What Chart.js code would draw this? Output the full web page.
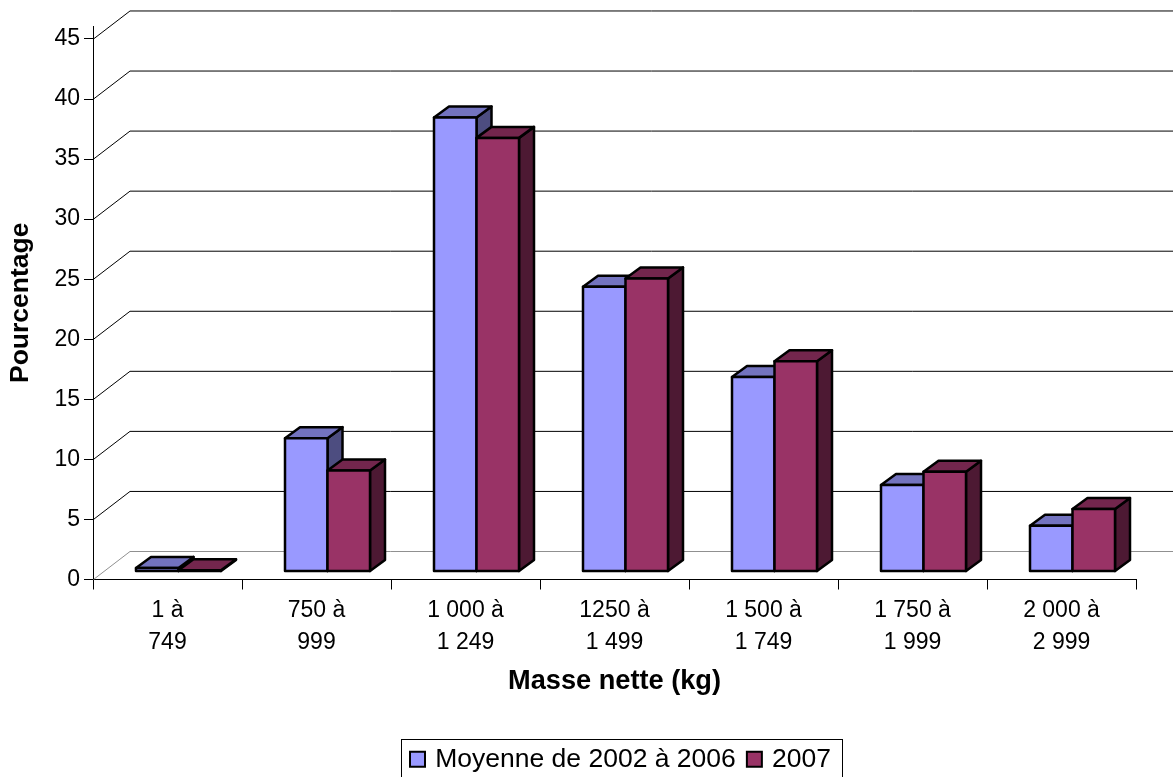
<!DOCTYPE html>
<html>
<head>
<meta charset="utf-8">
<style>html,body{margin:0;padding:0;background:#fff;overflow:hidden}canvas{display:block}</style>
<script src="https://cdn.jsdelivr.net/npm/chart.js@4"></script>
</head>
<body>
<canvas id="c" width="1175" height="777"></canvas>
<script>
const categories = [["1 à","749"],["750 à","999"],["1 000 à","1 249"],["1250 à","1 499"],["1 500 à","1 749"],["1 750 à","1 999"],["2 000 à","2 999"]];
const seriesNames = ["Moyenne de 2002 à 2006","2007"];
const moyenne = [0.3,11.1,37.8,23.7,16.2,7.2,3.8];
const annee2007 = [0.1,8.4,36.1,24.4,17.5,8.3,5.2];
const xTitle = "Masse nette (kg)";
const yTitle = "Pourcentage";

const FONT = "'Liberation Sans', Arial, sans-serif";
const faces = [
  {front:"#9999FF",top:"#7373BF",side:"#4D4D80"},
  {front:"#993366",top:"#73264D",side:"#4D1933"}
];
const WALL = {dx:37,dy:-28};      // depth of the whole 3D floor
const PLANE = {dx:11,dy:-8};      // front plane of the bars
const DEPTH = {dx:15,dy:-11};     // depth of one bar

function swatch(color){
  const s=document.createElement('canvas');s.width=19;s.height=19;
  const g=s.getContext('2d');
  g.fillStyle=color;g.fillRect(1,1,17,17);
  g.strokeStyle='#000';g.lineWidth=2;g.strokeRect(2,2,15,15);
  return s;
}

const threeD = {
  id:'threeD',
  afterLayout(chart){
    const l=chart.legend;
    l.left+=54;l.right+=54;
    l.top=732;l.bottom=777;l.height=45;
  },
  beforeDatasetsDraw(chart){
    const {ctx,chartArea:a,scales:{y}}=chart;
    ctx.save();
    ctx.lineWidth=1;
    y.ticks.forEach(t=>{
      const py=y.getPixelForValue(t.value);
      ctx.strokeStyle=t.value===0?'#909090':'#000';
      ctx.beginPath();
      ctx.moveTo(a.left+0.5,py);
      ctx.lineTo(a.left+WALL.dx,py+WALL.dy);
      ctx.lineTo(a.right+WALL.dx,py+WALL.dy);
      ctx.stroke();
    });
    ctx.restore();
  },
  // Chart.js paints the last dataset first: paint them here in series order instead
  beforeDatasetDraw(){return false;},
  afterDatasetsDraw(chart){
    const ctx=chart.ctx;
    ctx.save();
    ctx.translate(PLANE.dx,PLANE.dy);
    ctx.strokeStyle='#000';ctx.lineWidth=2.5;ctx.lineJoin='round';
    chart.data.datasets.forEach((d,i)=>{
      const meta=chart.getDatasetMeta(i),f=faces[i];
      const boxes=meta.data.map(b=>b.getProps(['x','y','base','width'],true));
      boxes.forEach(p=>{
        const l=p.x-p.width/2,r=p.x+p.width/2;
        const poly=(pts,c)=>{
          ctx.beginPath();pts.forEach((q,k)=>k?ctx.lineTo(q[0],q[1]):ctx.moveTo(q[0],q[1]));
          ctx.closePath();ctx.fillStyle=c;ctx.fill();ctx.stroke();
        };
        poly([[r,p.y],[r+DEPTH.dx,p.y+DEPTH.dy],[r+DEPTH.dx,p.base+DEPTH.dy],[r,p.base]],f.side);
        poly([[l,p.y],[l+DEPTH.dx,p.y+DEPTH.dy],[r+DEPTH.dx,p.y+DEPTH.dy],[r,p.y]],f.top);
      });
      meta.controller.draw();
      boxes.forEach(p=>ctx.strokeRect(p.x-p.width/2,p.y,p.width,p.base-p.y));
    });
    ctx.restore();
  },
  afterDraw(chart){
    const {ctx}=chart;
    ctx.save();
    ctx.strokeStyle='#000';ctx.lineWidth=1;
    ctx.strokeRect(401.5,739.5,441,40);
    ctx.restore();
  }
};

new Chart(document.getElementById('c'),{
  type:'bar',
  data:{
    labels:categories,
    datasets:[moyenne,annee2007].map((d,i)=>({
      label:seriesNames[i],data:d,backgroundColor:faces[i].front,borderWidth:0,
      categoryPercentage:85/149,barPercentage:1,clip:false
    }))
  },
  plugins:[threeD],
  options:{
    responsive:false,animation:false,
    layout:{padding:{top:26,right:39,left:0,bottom:0}},
    plugins:{
      tooltip:{enabled:false},
      legend:{
        position:'bottom',
        labels:{
          font:{family:FONT,size:26.5},color:'#000',
          usePointStyle:true,pointStyleWidth:9,padding:14,
          generateLabels(chart){
            return chart.data.datasets.map((d,i)=>({
              text:d.label,datasetIndex:i,pointStyle:swatch(faces[i].front),fontColor:'#000',
              fillStyle:faces[i].front,strokeStyle:'#000',lineWidth:0,hidden:false
            }));
          }
        }
      }
    },
    scales:{
      x:{
        afterFit(s){s.height=147;},
        grid:{color:'#000',drawOnChartArea:false,tickLength:10,offset:true},
        border:{display:true,color:'#000'},
        ticks:{font:{family:FONT,size:23,lineHeight:1.4},color:'#000',autoSkip:false,maxRotation:0,padding:5},
        title:{display:true,text:xTitle,font:{family:FONT,size:27.2,weight:'bold'},color:'#000',padding:{top:0,bottom:29}}
      },
      y:{
        min:0,max:46.08,
        afterFit(s){s.width=93;},
        grid:{color:'#000',drawOnChartArea:false,tickLength:9},
        border:{display:true,color:'#000'},
        ticks:{stepSize:5,includeBounds:false,font:{family:FONT,size:23},color:'#000',padding:4},
        title:{display:true,text:yTitle,font:{family:FONT,size:26.5,weight:'bold'},color:'#000',padding:{top:5,bottom:0}}
      }
    }
  }
});
</script>
</body>
</html>
